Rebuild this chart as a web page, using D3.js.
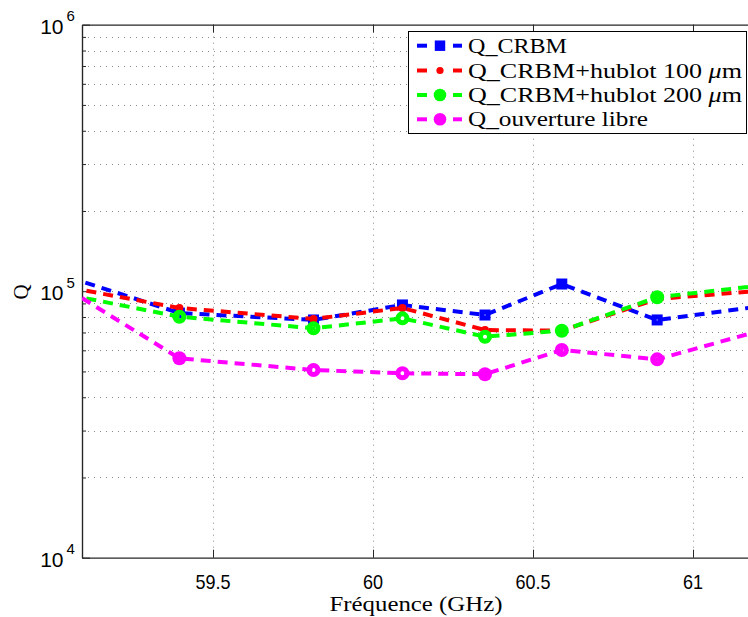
<!DOCTYPE html>
<html><head><meta charset="utf-8">
<script src="https://cdn.jsdelivr.net/npm/d3@7"></script>
<style>body{margin:0;background:#fff}svg{display:block}</style>
</head><body><svg id="c" width="748" height="617"></svg>
<script>
// ---- data ----
const freqs   = [59.0, 59.395, 59.814, 60.092, 60.35, 60.59, 60.888, 61.3];
const qCRBM   = [118000, 82800, 78000, 88800, 81400, 106400, 78000, 90600];
const qHub100 = [105900, 86500, 78700, 86500, 71500, 71100, 93500, 102400];
const qHub200 = [99500, 80200, 72600, 79100, 67500, 71100, 94900, 108000];
const qOpen   = [110000, 56000, 50600, 49200, 48800, 60200, 55500, 76200];
const seriesNames = ["Q_CRBM", "Q_CRBM+hublot 100 ", "Q_CRBM+hublot 200 ", "Q_ouverture libre"];
const hollowCRBM   = [0, 0, 1, 0, 1, 0, 1, 0];
const hollowHub100 = [0, 0, 0, 0, 0, 0, 0, 0];
const hollowHub200 = [0, 1, 1, 1, 1, 1, 0, 0];
const hollowOpen   = [0, 0, 1, 1, 0, 1, 1, 0];
const xTicks = [59.5, 60, 60.5, 61];
const xTickLabels = ["59.5", "60", "60.5", "61"];
const yMajor = [1e4, 1e5, 1e6];
const yMajorExp = ["4", "5", "6"];
const xLabel = "Fréquence (GHz)";
const yLabel = "Q";

// ---- layout ----
const L = 82, R = 790, T = 24.7, B = 557.7;
const x = d3.scaleLinear().domain([59.0906, 59.5 + (R - 213) / 320]).range([L, R]);
const y = d3.scaleLog().domain([1e4, 1e6]).range([B, T]);

const svg = d3.select("#c");
svg.append("rect").attr("width", 748).attr("height", 617).attr("fill", "#fff");

const yMinor = [];
[1e4, 1e5].forEach(d => { for (let k = 2; k <= 9; k++) yMinor.push(k * d); });
const yGrid = yMinor.concat([1e5]);

const grid = svg.append("g").attr("stroke", "#8a8a8a").attr("stroke-width", 1)
  .attr("stroke-dasharray", "1,5").attr("fill", "none");
grid.selectAll("line.h").data(yGrid).join("line").attr("class", "h")
  .attr("x1", L).attr("x2", R).attr("y1", d => Math.round(y(d)) + 0.5).attr("y2", d => Math.round(y(d)) + 0.5);
grid.selectAll("line.v").data(xTicks).join("line").attr("class", "v")
  .attr("x1", d => Math.round(x(d)) + 0.5).attr("x2", d => Math.round(x(d)) + 0.5).attr("y1", T).attr("y2", B);

const axCol = "#262626";
function styleAxis(g) { g.select(".domain").attr("stroke", axCol).attr("stroke-width", 1.2); g.selectAll(".tick line").attr("stroke", axCol); g.selectAll(".tick text").remove(); }
svg.append("g").attr("transform", `translate(0,${B})`)
  .call(d3.axisBottom(x).tickValues(xTicks).tickSizeInner(-8).tickSizeOuter(0).tickFormat("")).call(styleAxis);
svg.append("g").attr("transform", `translate(0,${T})`)
  .call(d3.axisTop(x).tickValues(xTicks).tickSizeInner(-8).tickSizeOuter(0).tickFormat("")).call(styleAxis);
svg.append("g").attr("transform", `translate(${L},0)`)
  .call(d3.axisLeft(y).tickValues(yMajor).tickSizeInner(-8).tickSizeOuter(0).tickFormat("")).call(styleAxis);
svg.append("g").attr("transform", `translate(${L},0)`)
  .call(d3.axisLeft(y).tickValues(yMinor).tickSizeInner(-4).tickSizeOuter(0).tickFormat("")).call(styleAxis);

const sans = "'Liberation Sans', Arial, sans-serif";
svg.append("g").selectAll("text").data(xTicks).join("text")
  .attr("x", d => x(d)).attr("y", 589).attr("text-anchor", "middle")
  .attr("font-family", sans).attr("font-size", 20).attr("fill", "#000")
  .attr("transform", d => `translate(${x(d)},0) scale(0.9,1) translate(${-x(d)},0)`)
  .text((d, i) => xTickLabels[i]);
const yl = svg.append("g");
yMajor.forEach((d, i) => {
  yl.append("text").attr("x", 63.5).attr("y", y(d) + 9).attr("text-anchor", "end")
    .attr("font-family", sans).attr("font-size", 21).attr("fill", "#000").text("10");
  yl.append("text").attr("x", 66.5).attr("y", y(d) - 3.5)
    .attr("font-family", sans).attr("font-size", 15).attr("fill", "#000").text(yMajorExp[i]);
});

const serif = "'Liberation Serif', 'Times New Roman', serif";
svg.append("text").attr("x", 416).attr("y", 611).attr("text-anchor", "middle")
  .attr("font-family", serif).attr("font-size", 21).attr("textLength", 173).attr("lengthAdjust", "spacingAndGlyphs").text(xLabel);
svg.append("text").attr("transform", "translate(28,292) rotate(-90)").attr("text-anchor", "middle")
  .attr("font-family", serif).attr("font-size", 21).text(yLabel);

const series = [
  { v: qCRBM, hol: hollowCRBM, color: "#0000ff", shape: "square", size: 11 },
  { v: qHub100, hol: hollowHub100, color: "#ff0000", shape: "circle", size: 4 },
  { v: qHub200, hol: hollowHub200, color: "#00ff00", shape: "circle", size: 7 },
  { v: qOpen, hol: hollowOpen, color: "#ff00ff", shape: "circle", size: 7 },
];
svg.append("clipPath").attr("id", "clip").append("rect").attr("x", L).attr("y", T).attr("width", R - L).attr("height", B - T);
const plot = svg.append("g").attr("clip-path", "url(#clip)");
const line = d3.line().x((d, i) => x(freqs[i])).y(d => y(d));

function marker(g, s, cx, cy, hollow, scale) {
  const sz = s.size * (scale || 1);
  if (s.shape === "square") {
    if (hollow) {
      g.append("rect").attr("x", cx - sz / 2 + 2.5).attr("y", cy - sz / 2 + 2.5).attr("width", sz - 5).attr("height", sz - 5)
        .attr("fill", "none").attr("stroke", s.color).attr("stroke-width", 5);
    } else {
      g.append("rect").attr("x", cx - sz / 2).attr("y", cy - sz / 2).attr("width", sz).attr("height", sz).attr("fill", s.color);
    }
  } else {
    if (hollow) {
      g.append("circle").attr("cx", cx).attr("cy", cy).attr("r", sz - 2.5)
        .attr("fill", "none").attr("stroke", s.color).attr("stroke-width", 5);
    } else {
      g.append("circle").attr("cx", cx).attr("cy", cy).attr("r", sz).attr("fill", s.color);
    }
  }
}

series.forEach(s => {
  const g = plot.append("g");
  g.append("path").datum(s.v).attr("d", line).attr("fill", "none").attr("stroke", s.color)
    .attr("stroke-width", 4).attr("stroke-dasharray", "10,7");
  s.v.forEach((v, i) => marker(g, s, x(freqs[i]), y(v), s.hol[i] === 1));
});

const lg = svg.append("g");
lg.append("rect").attr("x", 408.5).attr("y", 31.5).attr("width", 338).attr("height", 102)
  .attr("fill", "#fff").attr("stroke", "#000").attr("stroke-width", 1);
const rowY = [45.7, 70.5, 95, 119.3];
const textLen = [99, 274, 274, 180];
series.forEach((s, i) => {
  const ry = rowY[i];
  lg.append("line").attr("x1", 417).attr("x2", 427).attr("y1", ry).attr("y2", ry).attr("stroke", s.color).attr("stroke-width", 4);
  lg.append("line").attr("x1", 453).attr("x2", 462).attr("y1", ry).attr("y2", ry).attr("stroke", s.color).attr("stroke-width", 4);
  marker(lg, s, 440, ry, false, s.shape === "square" ? 0.95 : 0.9);
  const t = lg.append("text").attr("x", 468).attr("y", ry + 7).attr("font-family", serif).attr("font-size", 21)
    .attr("textLength", textLen[i]).attr("lengthAdjust", "spacingAndGlyphs");
  t.append("tspan").text(seriesNames[i]);
  if (i === 1 || i === 2) {
    t.append("tspan").attr("font-style", "italic").text("μ");
    t.append("tspan").text("m");
  }
});
</script></body></html>
